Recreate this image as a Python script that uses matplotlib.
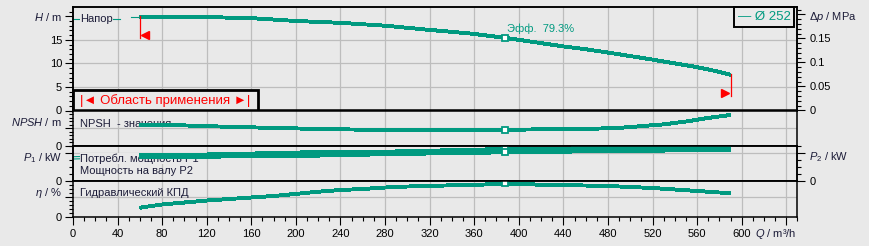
import numpy as np
import matplotlib
matplotlib.use("Agg")
import matplotlib.pyplot as plt
import matplotlib.transforms as mtransforms
from matplotlib.patches import Rectangle
from matplotlib.ticker import MultipleLocator, FixedLocator, FuncFormatter

plt.rcParams['font.family'] = ['Liberation Sans', 'DejaVu Sans']
plt.rcParams['mathtext.fontset'] = 'custom'
plt.rcParams['mathtext.rm'] = 'Liberation Sans'
plt.rcParams['mathtext.it'] = 'Liberation Sans:italic'
plt.rcParams['font.size'] = 8

# ---- data ----
q_head = [60, 80, 100, 120, 140, 160, 180, 200, 220, 240, 260, 280, 300, 320, 340,
          360, 388, 400, 420, 440, 460, 480, 500, 520, 540, 560, 580, 590]
head = [19.9, 19.9, 19.9, 19.85, 19.7, 19.6, 19.3, 19.0, 18.8, 18.6, 18.3, 18.0, 17.55, 17.1, 16.7,
        16.25, 15.4, 15.0, 14.3, 13.6, 13.0, 12.3, 11.55, 10.8, 10.0, 9.2, 8.2, 7.6]
q_head_low = [0, 20, 42, np.nan, 52, 60]
head_low = [19.5, 19.5, 19.5, np.nan, 19.8, 19.8]

q_npsh = [60, 100, 140, 180, 220, 260, 300, 340, 388, 420, 460, 490, 510, 530, 550, 570, 590]
npsh = [5.9, 5.8, 5.4, 5.1, 4.8, 4.6, 4.5, 4.5, 4.55, 4.7, 4.8, 5.1, 5.6, 6.1, 6.9, 7.9, 8.75]

q_pow = [60, 120, 172, 210, 260, 300, 340, 388, 440, 490, 540, 590]
p1 = [37.4, 37.9, 39.6, 41.0, 41.4, 42.5, 44.0, 45.7, 46.4, 47.0, 48.1, 48.1]
p2 = [34.3, 34.7, 35.7, 36.0, 37.6, 38.9, 39.7, 41.0, 41.9, 43.1, 43.6, 44.3]
q_pow_low = [0, 60]
p1_low = [34.7, 37.4]
p2_low = [31.4, 34.3]

q_eta = [60, 80, 100, 120, 140, 160, 180, 200, 220, 240, 260, 280, 300, 320, 340, 360,
         388, 400, 420, 440, 460, 480, 500, 520, 540, 560, 580, 590]
eta = [22.7, 30.8, 35.8, 40.8, 44.6, 48.4, 52.2, 57.5, 63.0, 67.3, 69.8, 73.6, 76.1, 77.4, 79.2, 79.9,
       83.7, 83.2, 80.4, 79.9, 78.6, 77.4, 74.9, 72.3, 68.6, 64.8, 61.0, 59.7]

q_duty = 388
duty_text = "Эфф.  79.3%"
q_range = [60, 590]
range_drop = 4.6
impeller = "— Ø 252"

x_ticks = list(range(0, 641, 40))

# ---- style ----
bg = '#e9e9e9'
teal = '#009a80'
grid_c = '#bdbdbd'
txt_c = '#1c1c38'
rho_g = 0.00981

fig = plt.figure(figsize=(8.69, 2.46), dpi=100, facecolor=bg)
L, W = 73 / 869, 724.4 / 869


def frame(top, bottom):
    return [L, 1 - bottom / 246, W, (bottom - top) / 246]


ax_h = fig.add_axes(frame(7.3, 110.5))
ax_n = fig.add_axes(frame(110.5, 146), sharex=ax_h)
ax_p = fig.add_axes(frame(146, 181), sharex=ax_h)
ax_e = fig.add_axes(frame(181, 216.7), sharex=ax_h)
axes = [ax_h, ax_n, ax_p, ax_e]

ax_h.set_ylim(0, 21.9)
ax_n.set_ylim(0, 10)
ax_p.set_ylim(0, 50)
ax_e.set_ylim(0, 90)
ax_h.set_xlim(0, 650)

for ax in axes:
    ax.set_facecolor(bg)
    ax.xaxis.set_major_locator(FixedLocator(x_ticks))
    ax.xaxis.set_minor_locator(MultipleLocator(10))
    for s in ax.spines.values():
        s.set_linewidth(1.1)
        s.set_color('black')
    ax.tick_params(axis='y', which='major', direction='out', length=5.8, width=0.8,
                   pad=2, labelsize=8, colors='black')
    ax.tick_params(axis='y', which='minor', direction='out', length=3.2, width=0.8)
    ax.tick_params(axis='x', which='both', bottom=False, labelbottom=False)
    # vertical grid lines
    for v in x_ticks[1:]:
        ax.axvline(v, color=grid_c, lw=0.9, zorder=1)

ax_e.tick_params(axis='x', which='major', bottom=True, labelbottom=True, direction='out',
                 length=5.8, width=0.8, pad=3, labelsize=8)
ax_e.tick_params(axis='x', which='minor', bottom=True, direction='out', length=3, width=0.8)
ax_e.xaxis.set_major_formatter(FuncFormatter(lambda v, p: '' if v > 600 else f'{v:.0f}'))

# left y ticks
ax_h.yaxis.set_major_locator(FixedLocator([0, 5, 10, 15, 20]))
ax_h.yaxis.set_minor_locator(MultipleLocator(1))
ax_h.set_yticklabels(['0', '5', '10', '15', ''])
for ax, g in [(ax_n, 5), (ax_p, 40), (ax_e, 50)]:
    ax.yaxis.set_major_locator(FixedLocator([0, g]))
    ax.set_yticklabels(['0', ''])
ax_n.yaxis.set_minor_locator(MultipleLocator(1))
ax_p.yaxis.set_minor_locator(MultipleLocator(10))
ax_e.yaxis.set_minor_locator(MultipleLocator(10))

# horizontal grid lines
for ax, lv in [(ax_h, [5, 10, 15]), (ax_n, [5]), (ax_p, [40]), (ax_e, [50])]:
    for v in lv:
        ax.axhline(v, color=grid_c, lw=0.9, zorder=1)

# right axes
ax_dp = ax_h.twinx()
ax_dp.set_ylim(0, 21.9 * rho_g)
ax_dp.yaxis.set_major_locator(FixedLocator([0, 0.05, 0.1, 0.15, 0.2]))
ax_dp.yaxis.set_minor_locator(MultipleLocator(0.01))
ax_dp.set_yticklabels(['0', '0.05', '0.1', '0.15', ''])
ax_p2 = ax_p.twinx()
ax_p2.set_ylim(0, 50)
ax_p2.yaxis.set_major_locator(FixedLocator([0, 40]))
ax_p2.yaxis.set_minor_locator(MultipleLocator(10))
ax_p2.set_yticklabels(['0', ''])
for ax in [ax_dp, ax_p2]:
    ax.tick_params(axis='y', which='major', direction='out', length=5.8, width=0.8,
                   pad=3, labelsize=8)
    ax.tick_params(axis='y', which='minor', direction='out', length=3.2, width=0.8)
    for s in ax.spines.values():
        s.set_linewidth(1.1)

# axis names
def left_name(ax, y, s):
    ax.annotate(s, xy=(0, y), xycoords=('axes fraction', 'data'), xytext=(-8, 0),
                textcoords='offset points', ha='right', va='center', fontsize=8, color=txt_c)


def right_name(ax, y, s):
    ax.annotate(s, xy=(1, y), xycoords=('axes fraction', 'data'), xytext=(8, 0),
                textcoords='offset points', ha='left', va='center', fontsize=8, color=txt_c)


left_name(ax_h, 19.8, '$H$ / m')
left_name(ax_n, 6.7, '$NPSH$ / m')
left_name(ax_p, 33.3, '$P_1$ / kW')
left_name(ax_e, 59, r'$\eta$ / %')
right_name(ax_dp, 19.8 * rho_g, 'Δ$p$ / MPa')
right_name(ax_p2, 34.7, '$P_2$ / kW')
fig.text(755 / 869, 1 - 234 / 246, '$Q$ / m³/h', ha='left', va='center', fontsize=8, color=txt_c)

# curve labels
def curve_label(ax, y, s, hide=False):
    kw = dict(bbox=dict(facecolor=bg, edgecolor='none', pad=0.3)) if hide else {}
    ax.annotate(s, xy=(0, y), xycoords=('axes fraction', 'data'), xytext=(5, 0),
                textcoords='offset points', ha='left', va='center', fontsize=8,
                color=txt_c, zorder=3, **kw)


curve_label(ax_h, 19.5, 'Напор', hide=True)
curve_label(ax_n, 6.3, 'NPSH  - значения')
curve_label(ax_p, 32.4, 'Потребл. мощность P1', hide=True)
curve_label(ax_p, 14.3, 'Мощность на валу P2')
curve_label(ax_e, 60.5, 'Гидравлический КПД')

# curves
thick = dict(color=teal, lw=2.1, antialiased=False, zorder=4, solid_capstyle='butt')
thin = dict(color=teal, lw=0.8, zorder=2)
ax_h.plot(q_head_low, head_low, **thin)
ax_h.plot(q_head, head, **thick)
ax_n.plot(q_npsh, npsh, **thick)
ax_p.plot(q_pow_low, p1_low, **thin)
ax_p.plot(q_pow_low, p2_low, **thin)
ax_p.plot(q_pow, p1, **thick)
ax_p.plot(q_pow, p2, **thick)
ax_e.plot(q_eta, eta, **thick)

# duty point markers
mk = dict(marker='s', ms=5, mfc='white', mec=teal, mew=1.3, ls='none', zorder=5)
ax_h.plot([q_duty], [np.interp(q_duty, q_head, head)], **mk)
ax_n.plot([q_duty], [np.interp(q_duty, q_npsh, npsh)], **mk)
ax_p.plot([q_duty], [np.interp(q_duty, q_pow, p1)], **mk)
ax_p.plot([q_duty], [np.interp(q_duty, q_pow, p2)], **mk)
ax_e.plot([q_duty], [np.interp(q_duty, q_eta, eta)], **mk)
ax_h.annotate(duty_text, xy=(q_duty, np.interp(q_duty, q_head, head)), xytext=(1.5, 2.5),
              textcoords='offset points', ha='left', va='bottom', fontsize=8, color=teal)

# operating range markers
for q, side in zip(q_range, ['<', '>']):
    h = np.interp(q, q_head, head)
    ax_h.plot([q, q], [h + 0.2, h - range_drop], color='red', lw=0.9, zorder=6)
    dx = 4 if side == '<' else -4
    tr = mtransforms.offset_copy(ax_h.transData, fig=fig, x=dx, y=0, units='points')
    ax_h.plot([q], [h - range_drop + 0.8], marker=side, ms=6, color='red', ls='none',
              transform=tr, zorder=6)

# boxes
ax_h.add_patch(Rectangle((0.9125, 0.809), 0.0828, 0.191, transform=ax_h.transAxes,
                         facecolor=bg, edgecolor='black', lw=1.4, zorder=7, clip_on=False))
ax_h.text(0.954, 0.905, impeller, transform=ax_h.transAxes, ha='center', va='center',
          fontsize=9.5, color=teal, zorder=8)
ax_h.add_patch(Rectangle((0, 0), 0.2554, 0.1986, transform=ax_h.transAxes,
                         facecolor=bg, edgecolor='black', lw=2, zorder=7, clip_on=False))
ax_h.text(0.1277, 0.097, '|◄ Область применения ►|', transform=ax_h.transAxes,
          ha='center', va='center', fontsize=9.5, color='red', zorder=8)

fig.savefig('out.png', dpi=100, facecolor=bg)
